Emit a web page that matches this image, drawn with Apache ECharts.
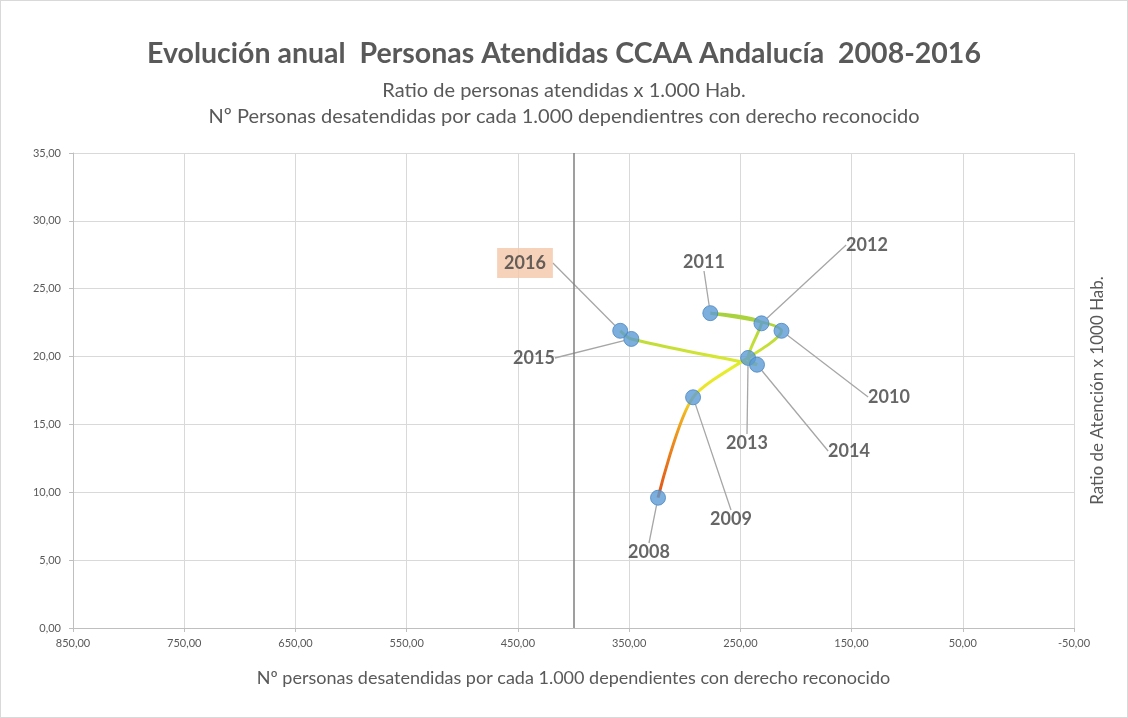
<!DOCTYPE html>
<html>
<head>
<meta charset="utf-8">
<script src="https://cdn.jsdelivr.net/npm/echarts@6/dist/echarts.min.js"></script>
<style>
html, body { margin: 0; padding: 0; background: #fff; }
#main { width: 1128px; height: 718px; box-sizing: border-box; border: 1px solid #d9d9d9; }
</style>
</head>
<body>
<div id="main"></div>
<script>
// datos por año
const years = ['2008', '2009', '2010', '2011', '2012', '2013', '2014', '2015', '2016'];
const desatendidas = [324, 292.5, 213, 277, 231, 243, 235, 348, 358];
const ratioAtencion = [9.6, 17.0, 21.9, 23.2, 22.45, 19.9, 19.4, 21.3, 21.9];
const xTicks = [850, 750, 650, 550, 450, 350, 250, 150, 50, -50];
const yTicks = [0, 5, 10, 15, 20, 25, 30, 35];

// posición de las etiquetas (px)
const labelPos = [
	[648, 551], [730, 518], [888, 396], [703, 261], [866, 244],
	[746, 442], [848, 450], [533, 357], [524, 262]
];

const fmt = v => v.toFixed(2).replace('.', ',');
const font = 'Lato, "Open Sans", sans-serif';

let chart = echarts.init(document.getElementById('main'));
let points = years.map((y, i) => [desatendidas[i], ratioAtencion[i]]);

let option = {
	animation: false,
	title: [{
		text: 'Evolución anual  Personas Atendidas CCAA Andalucía  2008-2016',
		left: 'center',
		top: 33,
		textStyle: { fontFamily: font, fontSize: 28.5, fontWeight: 'bold', color: '#595959' }
	}, {
		text: 'Ratio de personas atendidas x 1.000 Hab.',
		left: 'center',
		top: 75,
		textStyle: { fontFamily: font, fontSize: 20, fontWeight: 'normal', color: '#595959' }
	}, {
		text: 'Nº Personas desatendidas por cada 1.000 dependientres con derecho reconocido',
		left: 'center',
		top: 101,
		textStyle: { fontFamily: font, fontSize: 20, fontWeight: 'normal', color: '#595959' }
	}],
	grid: { left: 72, right: 53, top: 152, bottom: 89 },
	xAxis: {
		type: 'value',
		inverse: true,
		min: xTicks[xTicks.length - 1],
		max: xTicks[0],
		interval: 100,
		name: 'Nº personas desatendidas por cada 1.000 dependientes con derecho reconocido',
		nameLocation: 'middle',
		nameGap: 41,
		nameTextStyle: { fontFamily: font, fontSize: 18, color: '#595959' },
		axisLine: { show: true, onZero: false, lineStyle: { color: '#bfbfbf' } },
		axisTick: { show: true, length: 4, lineStyle: { color: '#bfbfbf' } },
		axisLabel: { formatter: fmt, fontFamily: font, fontSize: 11, color: '#595959', margin: 10 },
		splitLine: { show: true, lineStyle: { color: '#d9d9d9' } }
	},
	yAxis: [{
		type: 'value',
		min: yTicks[0],
		max: yTicks[yTicks.length - 1],
		interval: 5,
		position: 'left',
		axisLine: { show: true, onZero: false, lineStyle: { color: '#bfbfbf' } },
		axisTick: { show: true, length: 4, lineStyle: { color: '#bfbfbf' } },
		axisLabel: { formatter: fmt, fontFamily: font, fontSize: 11, color: '#595959', margin: 12 },
		splitLine: { show: true, lineStyle: { color: '#d9d9d9' } }
	}, {
		type: 'value',
		min: yTicks[0],
		max: yTicks[yTicks.length - 1],
		interval: 5,
		position: 'right',
		name: 'Ratio de Atención x 1000 Hab.',
		nameLocation: 'middle',
		nameRotate: 90,
		nameGap: 15,
		nameTextStyle: { fontFamily: font, fontSize: 17, color: '#595959' },
		axisLine: { show: false, onZero: false },
		axisTick: { show: false },
		axisLabel: { show: false },
		splitLine: { show: false }
	}],
	series: [{
		type: 'line',
		data: points,
		smooth: 0.25,
		showSymbol: false,
		z: 2,
		lineStyle: {
			width: 3,
			color: new echarts.graphic.LinearGradient(0, 0, 0, 1, [
				{ offset: 0, color: '#a4d03e' },
				{ offset: 0.2, color: '#c8e036' },
				{ offset: 0.3, color: '#e4ee2c' },
				{ offset: 0.46, color: '#f0e02a' },
				{ offset: 0.55, color: '#f0b020' },
				{ offset: 0.7, color: '#ec8a1c' },
				{ offset: 1, color: '#e0501a' }
			])
		},
		markLine: {
			silent: true,
			symbol: 'none',
			label: { show: false },
			lineStyle: { color: '#7f7f7f', type: 'solid', width: 1.5 },
			data: [{ xAxis: 400 }]
		}
	}, {
		type: 'scatter',
		data: points.map((d, i) => i === points.length - 1
			? { value: d, label: { backgroundColor: '#f4c7a9', padding: [6, 7] } }
			: d),
		symbolSize: 15,
		z: 3,
		itemStyle: { color: '#5b9bd5', borderColor: '#4a86c2', borderWidth: 1 },
		label: {
			show: true,
			formatter: p => years[p.dataIndex],
			fontFamily: font,
			fontSize: 18,
			fontWeight: 'bold',
			color: '#404040'
		},
		labelLine: { show: true, lineStyle: { color: '#a6a6a6', width: 1.3 } },
		labelLayout: p => ({
			x: labelPos[p.dataIndex][0],
			y: labelPos[p.dataIndex][1],
			align: 'center',
			verticalAlign: 'middle'
		}),
		emphasis: { disabled: true }
	}]
};

chart.setOption(option);
</script>
</body>
</html>
